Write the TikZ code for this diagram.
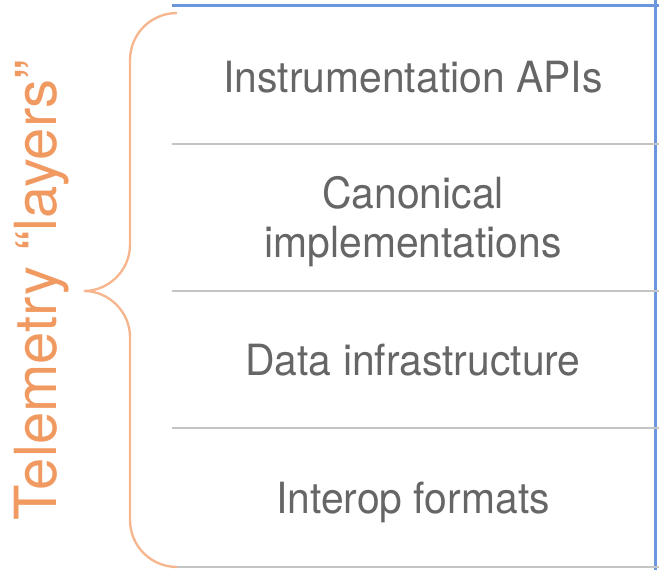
\documentclass[tikz,border=0pt]{standalone}
\usepackage{fontspec}
\setmainfont{TeX Gyre Heros}
\newfontfamily\layerfont[FakeStretch=0.95]{TeX Gyre Heros}
\definecolor{layertext}{HTML}{666666}
\definecolor{rulegray}{HTML}{C4C4C4}
\definecolor{edgeblue}{HTML}{6B96DE}
\definecolor{bracetext}{HTML}{F09A62}
\definecolor{braceline}{HTML}{F6B58C}
\begin{document}
\begin{tikzpicture}[x=1pt,y=-1pt,
  layerlabel/.style={font=\layerfont\fontsize{43}{49}\selectfont, text=layertext, anchor=base, inner sep=0pt, align=center},
  divider/.style={draw=rulegray, line width=2.5pt},
  frame/.style={draw=edgeblue, line width=3pt},
  bracepath/.style={draw=braceline, line width=2.3pt}]
\useasboundingbox (0,0) rectangle (659,570);
% outer frame edges
\draw[frame] (172,5) -- (659,5);
\draw[frame] (655,0) -- (655,570);
% layer dividers
\draw[divider] (172,144) -- (659,144);
\draw[divider] (172,291) -- (659,291);
\draw[divider] (172,428) -- (659,428);
\draw[divider] (177,567) -- (659,567);
% layer names (base anchor sits on the last line's baseline)
\node[layerlabel] (api) at (413,92) {Instrumentation APIs};
\node[layerlabel] (canon) at (413,257) {Canonical\\implementations};
\node[layerlabel] (infra) at (413,375) {Data infrastructure};
\node[layerlabel] (interop) at (413,513) {Interop formats};
% curly brace grouping the layers
\draw[bracepath] (177,13) .. controls (151,13) and (130,34) .. (130,60)
  -- (130,245) .. controls (130,270) and (109,291) .. (84,291)
  .. controls (109,291) and (130,312) .. (130,337)
  -- (130,520) .. controls (130,546) and (151,567) .. (177,567);
\node[font=\fontsize{58}{60}\selectfont, text=bracetext, rotate=90, anchor=base, inner sep=0pt] (title) at (56,290) {Telemetry “layers”};
\end{tikzpicture}
\end{document}
